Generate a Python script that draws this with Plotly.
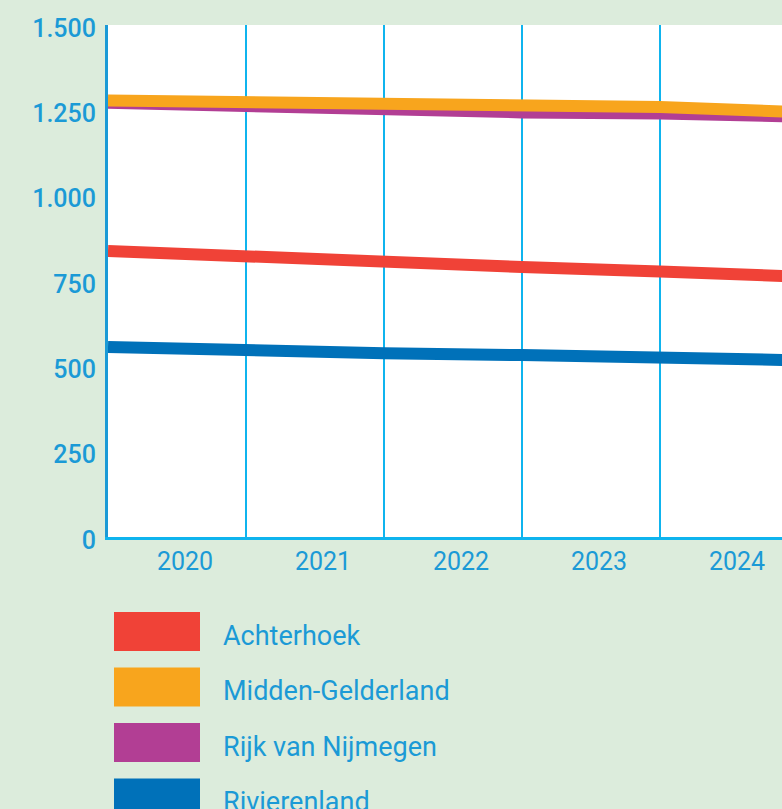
import plotly.graph_objects as go

# Data: values at the start of each year (vertices sit on the year boundaries)
x_years = [2020, 2021, 2022, 2023, 2024, 2025]
achterhoek = [838, 820, 804, 791, 778, 763]
midden_gelderland = [1279, 1275, 1270, 1265, 1260, 1245]
rijk_van_nijmegen = [1272, 1260, 1249, 1244, 1241, 1232]
rivierenland = [557, 545, 538, 533, 527, 518]

series_names = ["Achterhoek", "Midden-Gelderland", "Rijk van Nijmegen", "Rivierenland"]
series_values = [achterhoek, midden_gelderland, rijk_van_nijmegen, rivierenland]
series_colors = ["#f04237", "#f8a51d", "#b23e94", "#0071b9"]
draw_order = [0, 2, 1, 3]

x_tick_vals = [2020.5, 2021.5, 2022.5, 2023.5, 2024.5]
x_tick_labels = ["2020", "2021", "2022", "2023", "2024"]
y_tick_vals = [0, 250, 500, 750, 1000, 1250, 1500]
y_tick_labels = ["0", "250", "500", "750", "1.000", "1.250", "1.500"]

TEXT = "#1b9ad6"
GRID = "#0fb4ee"
BG = "#dcecdc"

fig = go.Figure()
for i in draw_order:
    fig.add_trace(go.Scatter(
        x=x_years, y=series_values[i], mode="lines", name=series_names[i],
        line=dict(color=series_colors[i], width=12), showlegend=False,
        hoverinfo="skip",
    ))

W, H = 782, 809
ml, mt, mb = 108, 25, 272
plot_w = W - ml
ph = H - mt - mb
x_end = 2020 + plot_w / 138.0

fig.update_layout(
    width=W, height=H,
    margin=dict(l=ml, r=0, t=mt, b=mb, pad=0),
    paper_bgcolor=BG, plot_bgcolor="white",
    font=dict(family="Roboto, DejaVu Sans, sans-serif", color=TEXT, size=24),
    xaxis=dict(
        range=[2020, x_end], tickmode="array", tickvals=x_tick_vals, ticktext=x_tick_labels,
        showgrid=False, zeroline=False, showline=True, linecolor=GRID, linewidth=3,
        ticks="", ticklabelstandoff=0, ticklabelshift=8,
        tickfont=dict(size=25, color=TEXT, family="Roboto"),
        minor=dict(tickmode="array", tickvals=[2021, 2022, 2023, 2024], showgrid=True,
                   gridcolor=GRID, gridwidth=2, ticks=""),
        fixedrange=True,
    ),
    yaxis=dict(
        range=[0, 1500], tickmode="array", tickvals=y_tick_vals, ticktext=y_tick_labels,
        showgrid=False, zeroline=False, showline=True, linecolor=TEXT, linewidth=3,
        ticks="", ticklabelstandoff=4, ticklabelshift=3,
        tickfont=dict(size=25, color=TEXT, family="Roboto", weight=500),
        fixedrange=True,
    ),
    showlegend=False,
)

# Custom legend: large swatches with labels below the chart
sw_x0, sw_x1 = 114, 200
sw_h = 39
first_top = 612
pitch = 55.5
shapes = []
annotations = []
for i, (name, color) in enumerate(zip(series_names, series_colors)):
    top = first_top + i * pitch
    bot = top + sw_h
    shapes.append(dict(
        type="rect", xref="paper", yref="paper",
        x0=(sw_x0 - ml) / plot_w, x1=(sw_x1 - ml) / plot_w,
        y0=(H - mb - bot) / ph, y1=(H - mb - top) / ph,
        fillcolor=color, line=dict(width=0), layer="above",
    ))
    annotations.append(dict(
        text=name, xref="paper", yref="paper",
        x=(221 - ml) / plot_w, y=(H - mb - (top + sw_h / 2 + 4)) / ph,
        xanchor="left", yanchor="middle", showarrow=False,
        font=dict(size=27, color=TEXT, family="Roboto"),
    ))
fig.update_layout(shapes=shapes, annotations=annotations)

fig.write_html(
    "out.html",
    config={"displayModeBar": False},
    post_script="document.body.style.margin='0';document.body.style.overflow='hidden';document.body.style.background='" + BG + "';",
)
